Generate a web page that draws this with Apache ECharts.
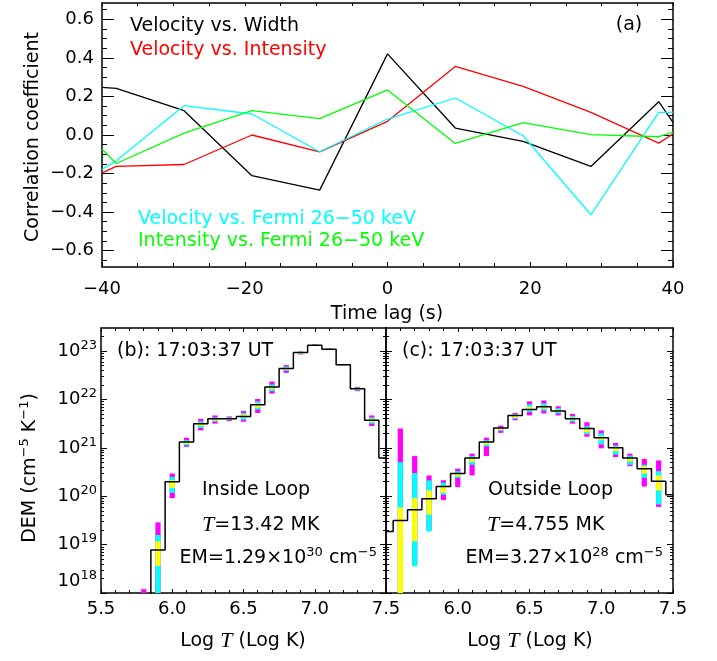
<!DOCTYPE html>
<html>
<head>
<meta charset="utf-8">
<script src="https://cdn.jsdelivr.net/npm/echarts@6/dist/echarts.min.js"></script>
<style>
  html, body { margin: 0; padding: 0; background: #fff; }
  #chart { width: 717px; height: 661px; }
</style>
</head>
<body>
<div id="chart"></div>
<script>
// ---- (a) correlation coefficient vs. time lag ----
const lags = [-40, -38, -28.5, -19, -9.5, 0, 9.5, 19, 28.5, 38, 40];
const velWidth     = [0.247, 0.242, 0.126, -0.211, -0.286, 0.421, 0.036, -0.033, -0.163, 0.173, 0.065];
const velIntensity = [-0.197, -0.163, -0.153, 0.000, -0.088, 0.071, 0.356, 0.252, 0.117, -0.042, 0.005];
const velFermi     = [-0.179, -0.134, 0.152, 0.109, -0.087, 0.083, 0.192, -0.004, -0.414, 0.117, 0.117];
const intFermi     = [-0.073, -0.148, 0.010, 0.126, 0.085, 0.234, -0.044, 0.064, 0.002, -0.009, 0.014];
const corrTicks = [-0.6, -0.4, -0.2, 0.0, 0.2, 0.4, 0.6];
const lagTicks = [-40, -20, 0, 20, 40];

// ---- (b) DEM inside loop, log10(DEM) per 0.1 bin of log T ----
const tempBinsB = [5.8, 5.9, 6.0, 6.1, 6.2, 6.3, 6.4, 6.5, 6.6, 6.7, 6.8, 6.9, 7.0, 7.1, 7.2, 7.3, 7.4, 7.5];
const demB      = [17.0, 18.89, 20.30, 21.12, 21.50, 21.60, 21.60, 21.65, 21.89, 22.26, 22.64, 22.97, 23.12, 23.04, 22.72, 22.22, 21.57, 20.79];
const errBinsB  = [5.8, 5.9, 6.0, 6.1, 6.2, 6.3, 6.4, 6.5, 6.6, 6.7, 6.8, 6.9, 7.0, 7.1, 7.2, 7.3, 7.4];
const magHiB  = [18.08, 19.46, 20.47, 21.21, 21.60, 21.67, 21.65, 21.76, 22.01, 22.37, 22.71, 22.99, 23.14, 23.05, 22.73, 22.26, 21.67];
const cyanHiB = [17.90, 19.20, 20.40, 21.16, 21.55, 21.63, 21.63, 21.72, 21.96, 22.31, 22.68, 22.98, 23.135, 23.045, 22.725, 22.245, 21.63];
const yelHiB  = [17.80, 19.07, 20.33, 21.12, 21.50, 21.61, 21.62, 21.69, 21.92, 22.26, 22.66, 22.97, 23.13, 23.04, 22.72, 22.23, 21.60];
const yelLoB  = [17.50, 18.56, 20.17, 21.08, 21.45, 21.56, 21.58, 21.62, 21.83, 22.21, 22.61, 22.95, 23.12, 23.035, 22.715, 22.20, 21.53];
const cyanLoB = [17.40, 17.80, 20.07, 21.05, 21.41, 21.54, 21.57, 21.58, 21.79, 22.17, 22.59, 22.94, 23.115, 23.03, 22.71, 22.185, 21.50];
const magLoB  = [17.30, 17.70, 19.96, 21.02, 21.36, 21.50, 21.55, 21.54, 21.72, 22.12, 22.55, 22.93, 23.11, 23.025, 22.705, 22.17, 21.45];

// ---- (c) DEM outside loop ----
const tempBinsC = [5.5, 5.6, 5.7, 5.8, 5.9, 6.0, 6.1, 6.2, 6.3, 6.4, 6.5, 6.6, 6.7, 6.8, 6.9, 7.0, 7.1, 7.2, 7.3, 7.4, 7.5];
const demC      = [19.27, 19.50, 19.72, 19.95, 20.20, 20.47, 20.79, 21.12, 21.41, 21.67, 21.79, 21.85, 21.76, 21.60, 21.40, 21.21, 21.00, 20.79, 20.57, 20.31, 20.03];
const errBinsC  = [5.6, 5.7, 5.8, 5.9, 6.0, 6.1, 6.2, 6.3, 6.4, 6.5, 6.6, 6.7, 6.8, 6.9, 7.0, 7.1, 7.2, 7.3, 7.4];
const magHiC  = [21.40, 20.83, 20.43, 20.33, 20.57, 20.88, 21.21, 21.46, 21.72, 21.96, 21.98, 21.86, 21.70, 21.53, 21.36, 21.10, 20.88, 20.77, 20.74];
const cyanHiC = [20.70, 20.48, 20.33, 20.28, 20.52, 20.83, 21.16, 21.43, 21.70, 21.90, 21.92, 21.82, 21.66, 21.45, 21.30, 21.05, 20.84, 20.65, 20.52];
const yelHiC  = [19.77, 19.96, 20.12, 20.20, 20.48, 20.79, 21.12, 21.41, 21.67, 21.85, 21.86, 21.79, 21.63, 21.39, 21.24, 21.00, 20.79, 20.62, 20.43];
const yelLoC  = [17.50, 19.07, 19.62, 20.07, 20.41, 20.71, 21.07, 21.37, 21.62, 21.79, 21.81, 21.74, 21.57, 21.32, 21.16, 20.93, 20.72, 20.47, 20.12];
const cyanLoC = [17.40, 18.55, 19.27, 20.03, 20.38, 20.65, 21.03, 21.35, 21.60, 21.74, 21.77, 21.71, 21.54, 21.28, 21.07, 20.86, 20.65, 20.38, 19.83];
const magLoC  = [17.30, 18.60, 19.30, 19.92, 20.19, 20.43, 20.83, 21.31, 21.57, 21.67, 21.71, 21.67, 21.50, 21.23, 20.99, 20.81, 20.62, 20.20, 19.78];
const demDecades = [18, 19, 20, 21, 22, 23];

// ---- styling ----
const FONT = 'DejaVu Sans';
const INK = '#000';
const line = { color: INK, width: 1.5 };
const thin = { color: INK, width: 1 };

function minus(s) { return String(s).replace('-', '\u2212'); }

// minor tick positions (axis decoration only)
const corrMinor = [];
for (let k = -13; k <= 13; k++) corrMinor.push(+(k * 0.05).toFixed(2));
const demMinor = [];
demDecades.forEach(function (d) {
  for (let m = 2; m <= 9; m++) {
    const v = d + Math.log10(m);
    if (v < 23.477) demMinor.push(v);
  }
});

function yTickAxis(grid, pos, min, max, ticks, len, labelOpt, withLine) {
  return {
    type: 'value', gridIndex: grid, position: pos, min: min, max: max,
    splitLine: { show: false },
    axisLine: { show: !!withLine, onZero: false, lineStyle: line },
    axisTick: { show: true, inside: true, length: len, lineStyle: thin, customValues: ticks },
    axisLabel: labelOpt || { show: false }
  };
}

function xAxisDef(grid, pos, min, max, interval, majorLen, minorLen, minorSplit, labelOpt) {
  return {
    type: 'value', gridIndex: grid, position: pos, min: min, max: max, interval: interval,
    splitLine: { show: false }, minorSplitLine: { show: false },
    axisLine: { show: true, onZero: false, lineStyle: line },
    axisTick: { show: true, inside: true, length: majorLen, lineStyle: thin },
    minorTick: { show: true, splitNumber: minorSplit, length: minorLen, lineStyle: thin },
    axisLabel: labelOpt || { show: false }
  };
}

const lagLabel = {
  show: true, margin: 13, color: INK, fontFamily: FONT, fontSize: 18,
  formatter: function (v) { return minus(v); }
};
const corrLabel = {
  show: true, margin: 8, color: INK, fontFamily: FONT, fontSize: 18,
  customValues: corrTicks,
  formatter: function (v) { return minus(v.toFixed(1)); }
};
function logTLabel(showMin) {
  return {
    show: true, margin: 7, color: INK, fontFamily: FONT, fontSize: 18,
    showMinLabel: showMin, showMaxLabel: true,
    formatter: function (v) { return v.toFixed(1); }
  };
}
const demLabel = {
  show: true, margin: 4, color: INK, customValues: demDecades,
  verticalAlignMinLabel: 'bottom',
  formatter: function (v) { return '{b|10}{s|' + Math.round(v) + '}'; },
  rich: {
    b: { fontFamily: FONT, fontSize: 18, color: INK },
    s: { fontFamily: FONT, fontSize: 13, color: INK, padding: [0, 0, 11, 0] }
  }
};

const DEM_MIN = 18, DEM_MAX = 23.477;

const xAxes = [
  xAxisDef(0, 'bottom', -40, 40, 20, 5, 4, 4, lagLabel),
  xAxisDef(0, 'top', -40, 40, 20, 3, 3, 4, null),
  xAxisDef(1, 'bottom', 5.5, 7.5, 0.5, 4, 3, 5, logTLabel(true)),
  xAxisDef(1, 'top', 5.5, 7.5, 0.5, 4, 3, 5, null),
  xAxisDef(2, 'bottom', 5.5, 7.5, 0.5, 4, 3, 5, logTLabel(false)),
  xAxisDef(2, 'top', 5.5, 7.5, 0.5, 4, 3, 5, null)
];

const yAxes = [
  yTickAxis(0, 'left', -0.685, 0.685, corrTicks, 12, corrLabel, true),   // 0
  yTickAxis(0, 'left', -0.685, 0.685, corrMinor, 5, null, false),        // 1
  yTickAxis(0, 'right', -0.685, 0.685, corrTicks, 12, null, true),       // 2
  yTickAxis(0, 'right', -0.685, 0.685, corrMinor, 5, null, false),       // 3
  yTickAxis(1, 'left', DEM_MIN, DEM_MAX, demDecades, 6, demLabel, true), // 4
  yTickAxis(1, 'left', DEM_MIN, DEM_MAX, demMinor, 3, null, false),      // 5
  yTickAxis(1, 'right', DEM_MIN, DEM_MAX, demDecades, 6, null, true),    // 6
  yTickAxis(1, 'right', DEM_MIN, DEM_MAX, demMinor, 3, null, false),     // 7
  yTickAxis(2, 'left', DEM_MIN, DEM_MAX, demDecades, 6, null, true),     // 8
  yTickAxis(2, 'left', DEM_MIN, DEM_MAX, demMinor, 3, null, false),      // 9
  yTickAxis(2, 'right', DEM_MIN, DEM_MAX, demDecades, 6, null, true),    // 10
  yTickAxis(2, 'right', DEM_MIN, DEM_MAX, demMinor, 3, null, false)      // 11
];

function zip(xs, ys) { return xs.map(function (x, i) { return [x, ys[i]]; }); }

function corrSeries(values, color) {
  return {
    type: 'line', xAxisIndex: 0, yAxisIndex: 0, data: zip(lags, values),
    symbol: 'none', clip: true, silent: true,
    lineStyle: { color: color, width: 1.3 }
  };
}

// stacked uncertainty boxes: magenta, then cyan, then yellow on top
const BAR_COLORS = ['#ff00ff', '#00ffff', '#ffff00'];
function renderErr(params, api) {
  const cs = params.coordSys;
  const x = api.value(0);
  const kids = [];
  for (let k = 0; k < 3; k++) {
    const lo = api.coord([x, api.value(1 + 2 * k)]);
    const hi = api.coord([x, api.value(2 + 2 * k)]);
    const top = Math.max(hi[1], cs.y);
    const bot = Math.min(lo[1], cs.y + cs.height);
    if (bot <= top) continue;
    kids.push({
      type: 'rect',
      shape: { x: hi[0] - 2.6, y: top, width: 5.2, height: bot - top },
      style: { fill: BAR_COLORS[k] }
    });
  }
  return { type: 'group', children: kids };
}

function errSeries(xi, yi, bins, mLo, mHi, cLo, cHi, yLo, yHi) {
  return {
    type: 'custom', xAxisIndex: xi, yAxisIndex: yi, silent: true,
    data: bins.map(function (t, i) { return [t, mLo[i], mHi[i], cLo[i], cHi[i], yLo[i], yHi[i]]; }),
    encode: { x: 0, y: [1, 2] },
    renderItem: renderErr
  };
}

function stepSeries(xi, yi, bins, dem) {
  return {
    type: 'line', xAxisIndex: xi, yAxisIndex: yi, step: 'middle',
    data: zip(bins, dem), symbol: 'none', clip: true, silent: true,
    lineStyle: { color: INK, width: 1.5 }
  };
}

const txt = { fontFamily: FONT, fontSize: 19 };
const rich = {
  n: { fontFamily: FONT, fontSize: 19, color: INK },
  s: { fontFamily: FONT, fontSize: 13, color: INK, padding: [0, 0, 11, 0] },
  it: { fontFamily: 'Liberation Serif', fontStyle: 'italic', fontSize: 22, color: INK }
};

function label(x, y, text, color, align) {
  return {
    type: 'text', x: x, y: y, silent: true,
    style: Object.assign({ text: text, fill: color || INK, align: align || 'left', verticalAlign: 'middle' }, txt)
  };
}
function richLabel(x, y, text, align, rotation) {
  return {
    type: 'text', x: x, y: y, rotation: rotation || 0, silent: true,
    style: { text: text, rich: rich, align: align || 'left', verticalAlign: 'middle' }
  };
}

const option = {
  animation: false,
  backgroundColor: '#fff',
  grid: [
    { left: 102, top: 3, width: 571, height: 264, containLabel: false, outerBoundsMode: 'none' },
    { left: 101, top: 328, width: 285, height: 265, containLabel: false, outerBoundsMode: 'none' },
    { left: 386, top: 328, width: 287, height: 265, containLabel: false, outerBoundsMode: 'none' }
  ],
  xAxis: xAxes,
  yAxis: yAxes,
  series: [
    corrSeries(velWidth, '#000000'),
    corrSeries(velIntensity, '#ff0000'),
    corrSeries(velFermi, '#00ffff'),
    corrSeries(intFermi, '#00ff00'),
    errSeries(2, 4, errBinsB, magLoB, magHiB, cyanLoB, cyanHiB, yelLoB, yelHiB),
    stepSeries(2, 4, tempBinsB, demB),
    errSeries(4, 8, errBinsC, magLoC, magHiC, cyanLoC, cyanHiC, yelLoC, yelHiC),
    stepSeries(4, 8, tempBinsC, demC)
  ],
  graphic: [
    label(130, 26, 'Velocity vs. Width', '#000000'),
    label(130, 50, 'Velocity vs. Intensity', '#ff0000'),
    label(138, 219, 'Velocity vs. Fermi 26\u221250 keV', '#00ffff'),
    label(138, 241, 'Intensity vs. Fermi 26\u221250 keV', '#00ff00'),
    label(629, 25, '(a)', INK, 'center'),
    label(387, 314, 'Time lag (s)', INK, 'center'),
    {
      type: 'text', x: 33, y: 137, rotation: Math.PI / 2, silent: true,
      style: Object.assign({ text: 'Correlation coefficient', fill: INK, align: 'center', verticalAlign: 'middle' }, txt)
    },
    richLabel(30, 468, '{n|DEM (cm}{s|\u22125}{n| K}{s|\u22121}{n|)}', 'center', Math.PI / 2),
    label(117, 351, '(b): 17:03:37 UT'),
    label(402, 351, '(c): 17:03:37 UT'),
    label(202, 490, 'Inside Loop'),
    richLabel(202, 525, '{it|T}{n|=13.42 MK}'),
    richLabel(377, 558, '{n|EM=1.29\u00d710}{s|30}{n| cm}{s|\u22125}', 'right'),
    label(488, 490, 'Outside Loop'),
    richLabel(487, 525, '{it|T}{n|=4.755 MK}'),
    richLabel(663, 558, '{n|EM=3.27\u00d710}{s|28}{n| cm}{s|\u22125}', 'right'),
    richLabel(243, 641, '{n|Log }{it|T}{n| (Log K)}', 'center'),
    richLabel(530, 641, '{n|Log }{it|T}{n| (Log K)}', 'center')
  ]
};

const chart = echarts.init(document.getElementById('chart'), null, { renderer: 'canvas' });
chart.setOption(option);
</script>
</body>
</html>
